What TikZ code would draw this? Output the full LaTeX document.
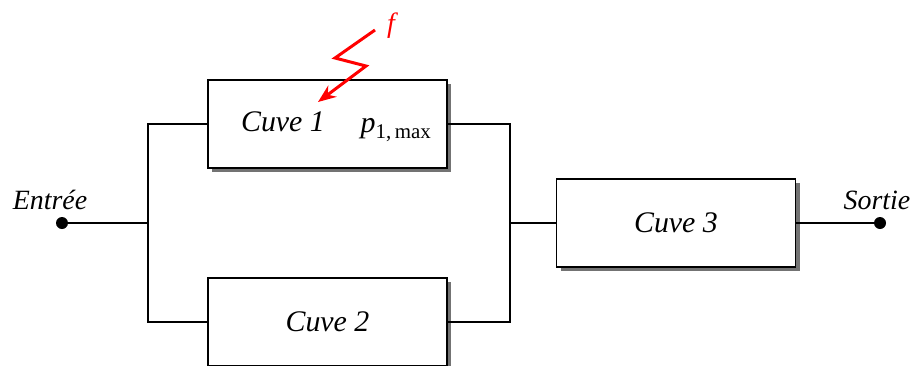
\documentclass[tikz,border=0pt]{standalone}
\usepackage{fontspec}
\setmainfont{Liberation Serif}
\usetikzlibrary{arrows.meta,shadows}

\begin{document}
\begin{tikzpicture}[x=1bp, y=-1bp, >=Stealth,
    cuve/.style={
        draw,
        line width=1.6bp,
        fill=white,
        minimum width=239bp,
        minimum height=88bp,
        font=\fontsize{30}{32}\selectfont\itshape,
        drop shadow={shadow xshift=4bp, shadow yshift=-4bp, fill=black!55, opacity=1}
    },
    wire/.style={line width=1.3bp},
    terminal/.style={circle, fill, inner sep=0pt, minimum size=12bp},
    tag/.style={font=\fontsize{28}{30}\selectfont\itshape}
]

    \useasboundingbox (0,0) rectangle (915,365);

    % boxes
    \node[cuve] (c1) at (327.5,124) {};
    \node[cuve] (c2) at (327.5,322) {Cuve 2};
    \node[cuve] (c3) at (676,223) {Cuve 3};

    \node[font=\fontsize{30}{32}\selectfont\itshape] (c1lbl) at (283,122) {Cuve 1};
    \node[font=\fontsize{30}{32}\selectfont] (pmax) at (396,130)
        {\textit{p}\textsubscript{\fontsize{21}{22}\selectfont 1,\,max}};

    % terminals
    \node[terminal] (in) at (62,223) {};
    \node[terminal] (out) at (880,223) {};
    \node[tag, anchor=south] at (50,213) {Entrée};
    \node[tag, anchor=south] at (877,213) {Sortie};

    \coordinate (split) at (148,223);
    \coordinate (join) at (510,223);

    % wiring
    \draw[wire] (in) -- (split);
    \draw[wire] (split) |- (c1.west);
    \draw[wire] (split) |- (c2.west);
    \draw[wire] (c1.east) -| (join);
    \draw[wire] (c2.east) -| (join);
    \draw[wire] (join) -- (c3.west);
    \draw[wire] (c3.east) -- (out);

    % failure
    \node[tag, red] (f) at (391,26) {f};
    \coordinate (f0) at (375,30);
    \draw[
        -{Stealth[length=18bp, width=14bp]},
        red,
        line width=3bp,
        line join=miter
    ] (f0) -- (335,58) -- (366,66) -- (318,102);

\end{tikzpicture}
\end{document}
